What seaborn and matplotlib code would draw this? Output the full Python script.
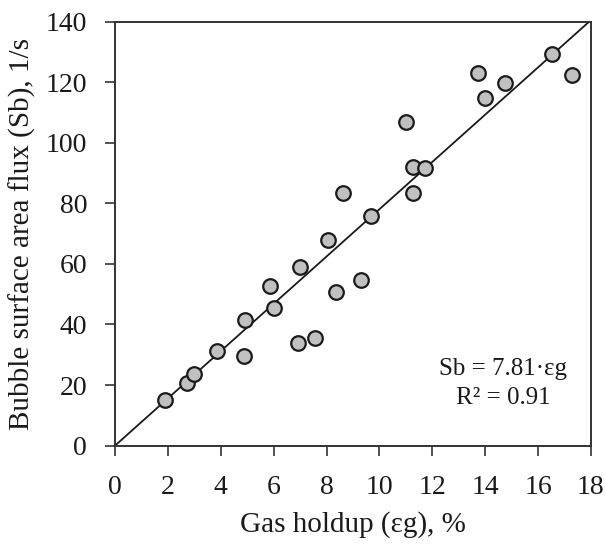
import matplotlib
matplotlib.use("Agg")
import matplotlib.pyplot as plt
import seaborn as sns
import numpy as np
import pandas as pd

gas_holdup = [1.89, 2.73, 3.00, 3.87, 4.89, 4.93, 5.86, 6.02, 6.91, 7.00,
              7.56, 8.04, 8.35, 8.63, 9.29, 9.68, 11.01, 11.28, 11.28, 11.72,
              13.74, 13.99, 14.75, 16.52, 17.27]
sb_flux = [15.2, 20.5, 23.7, 31.4, 29.5, 41.6, 52.6, 45.4, 33.9, 59.0,
           35.7, 68.0, 50.9, 83.6, 54.6, 75.7, 106.9, 92.0, 83.4, 91.6,
           123.0, 114.7, 119.7, 129.3, 122.4]
slope = 7.81
fit_x = [0, 18]
x_ticks = [0, 2, 4, 6, 8, 10, 12, 14, 16, 18]
y_ticks = [0, 20, 40, 60, 80, 100, 120, 140]

sns.set_theme(style="white")
plt.rcParams['font.family'] = ['Liberation Serif', 'DejaVu Serif']

df = pd.DataFrame({"x": gas_holdup, "y": sb_flux})

fig = plt.figure(figsize=(6.06, 5.48), dpi=100)
ax = fig.add_axes([0.19, 0.187, 0.785, 0.773])

fx = np.array(fit_x, dtype=float)
ax.plot(fx, slope * fx, color="#1a1a1a", lw=1.3, zorder=1)

sns.scatterplot(data=df, x="x", y="y", ax=ax, s=110, color="#c0c0c0",
                edgecolor="#1a1a1a", linewidth=1.6, zorder=3, legend=False)

ax.set_xlim(0, 18)
ax.set_ylim(0, 140)
ax.set_xticks(x_ticks)
ax.set_yticks(y_ticks)
ax.tick_params(axis="both", which="both", direction="out", length=7.2, width=1.2,
               color="#333333", labelsize=20, labelcolor="#1a1a1a",
               bottom=True, left=True, top=False, right=False)
ax.tick_params(axis="x", pad=14)
ax.tick_params(axis="y", pad=13)
for sp in ax.spines.values():
    sp.set_color("#333333")
    sp.set_linewidth(1.4)
    sp.set_visible(True)

ax.set_xlabel("Gas holdup (εg), %", fontsize=21, color="#1a1a1a", labelpad=8)
ax.set_ylabel("Bubble surface area flux (Sb), 1/s", fontsize=21, color="#1a1a1a", labelpad=7)

ax.text(0.815, 0.147, "Sb = 7.81·εg\nR² = 0.91", transform=ax.transAxes,
        ha="center", va="center", fontsize=18, color="#1a1a1a", linespacing=1.4)

fig.savefig("out.png", dpi=100)
